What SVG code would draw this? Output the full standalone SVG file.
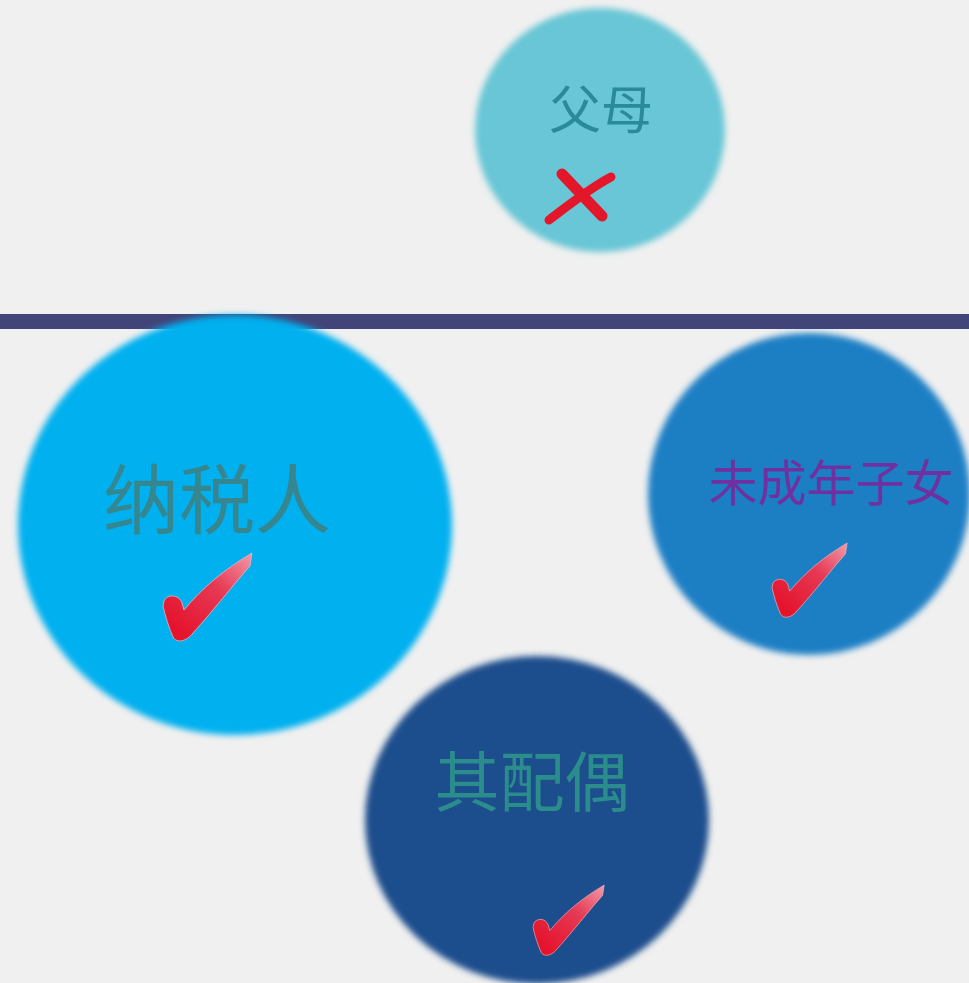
<svg xmlns="http://www.w3.org/2000/svg" width="969" height="983" viewBox="0 0 969 983">
  <style>
    .lbl { font-family: "Microsoft YaHei", "Noto Sans CJK SC", "Noto Sans", sans-serif; text-anchor: middle; }
  </style>
  <defs>
    <filter id="soft" x="-10%" y="-10%" width="120%" height="120%">
      <feGaussianBlur stdDeviation="3"/>
    </filter>
    <linearGradient id="chk" x1="0.2" y1="0.9" x2="1" y2="0">
      <stop offset="0" stop-color="#e5142d"/>
      <stop offset="0.55" stop-color="#e63a55"/>
      <stop offset="1" stop-color="#f29aa8"/>
    </linearGradient>
    <symbol id="check" viewBox="0 0 90 90" overflow="visible">
      <path d="M 1 48 C 4 41, 16 41, 19 50 L 21 57 C 40 34, 62 16, 89 0 L 87 13 C 70 32, 50 58, 30 80 C 24 88, 14 91, 10 84 C 6 75, 2 62, 0 53 Z" fill="url(#chk)" stroke="#f4b0b8" stroke-width="0.8"/>
    </symbol>
  </defs>
  <rect width="969" height="983" fill="#f0f0f0"/>
  <rect x="0" y="314" width="969" height="15" fill="#414479"/>

  <g id="parents">
    <ellipse cx="600" cy="130" rx="125" ry="122" fill="#68c6d6" filter="url(#soft)"/>
    <text class="lbl" x="601" y="129" font-size="52" fill="#2b8a99">父母</text>
    <g fill="none" stroke="#e3162a" stroke-linecap="round">
      <path d="M 562 174 L 602 216" stroke-width="11"/>
      <path d="M 611 177 C 590 188, 570 204, 549 220" stroke-width="9"/>
    </g>
  </g>

  <g id="taxpayer">
    <ellipse cx="235" cy="525" rx="217" ry="210" fill="#04b0ef" filter="url(#soft)"/>
    <text class="lbl" x="217" y="528" font-size="76" fill="#35868f">纳税人</text>
    <use href="#check" x="163" y="553" width="90" height="90"/>
  </g>

  <g id="children">
    <ellipse cx="809" cy="494" rx="161" ry="161" fill="#1e7fc4" filter="url(#soft)"/>
    <text class="lbl" x="831" y="501" font-size="49" fill="#7030a0">未成年子女</text>
    <use href="#check" x="772" y="543" width="76" height="76"/>
  </g>

  <g id="spouse">
    <ellipse cx="537" cy="820" rx="172" ry="164" fill="#1a4d8c" filter="url(#soft)"/>
    <text class="lbl" x="532" y="806" font-size="65" fill="#2b8c8c">其配偶</text>
    <use href="#check" x="533" y="885" width="72" height="72"/>
  </g>

  <g id="connectors"/>
</svg>
